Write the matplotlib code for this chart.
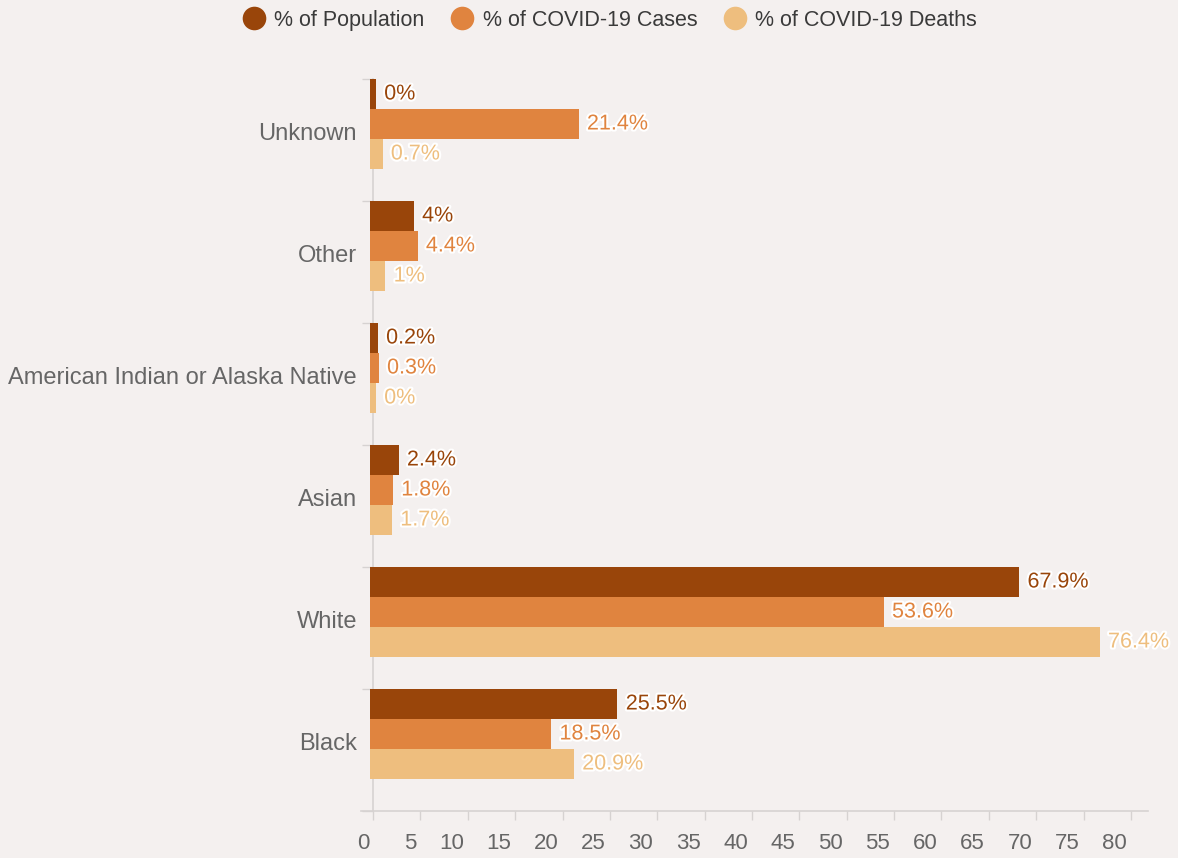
import matplotlib
matplotlib.use("Agg")
import matplotlib.pyplot as plt
import matplotlib.patheffects as pe
import matplotlib.transforms as mtransforms
from matplotlib.lines import Line2D
import numpy as np

plt.rcParams['font.family'] = ['Liberation Sans', 'DejaVu Sans']

categories = ["Unknown", "Other", "American Indian or Alaska Native", "Asian", "White", "Black"]
series_names = ["% of Population", "% of COVID-19 Cases", "% of COVID-19 Deaths"]
population = [0, 4, 0.2, 2.4, 67.9, 25.5]
cases = [21.4, 4.4, 0.3, 1.8, 53.6, 18.5]
deaths = [0.7, 1, 0, 1.7, 76.4, 20.9]
x_ticks = list(range(0, 85, 5))

colors = ["#99450A", "#E0843F", "#EEBE7E"]
bg = "#F4F0EF"
axis_gray = "#D6D2D1"
text_gray = "#666666"

fig = plt.figure(figsize=(11.78, 8.58), dpi=100, facecolor=bg)
ax = fig.add_axes([361 / 1178, (858 - 811) / 858, (1148 - 361) / 1178, (811 - 79) / 858])
ax.set_facecolor(bg)

n = len(categories)
ypos = np.arange(n)[::-1]  # Unknown at top
bar_h = 30 / 122
offsets = [0.5 - bar_h / 2, 0.5 - 1.5 * bar_h, 0.5 - 2.5 * bar_h]
pad = 0.3  # bars stick out a little past their value on both ends

for k, vals in enumerate([population, cases, deaths]):
    for y, v in zip(ypos, vals):
        yc = y + offsets[k]
        ax.barh(yc, v + 2 * pad, left=-pad, height=bar_h, color=colors[k], linewidth=0, zorder=3)
        ax.annotate(f"{v:g}%", xy=(v + pad, yc), xytext=(6, 0), textcoords="offset points",
                    ha="left", va="center", fontsize=15.5, color=colors[k], zorder=4,
                    path_effects=[pe.withStroke(linewidth=3, foreground="white")])

ax.set_xlim(-1.27, 81.8)
ax.set_ylim(-0.5, 5.5)

for s in ["top", "right"]:
    ax.spines[s].set_visible(False)
ax.spines["bottom"].set_color(axis_gray)
ax.spines["bottom"].set_linewidth(1.2)
ax.spines["left"].set_position(("data", 0))
ax.spines["left"].set_color(axis_gray)
ax.spines["left"].set_linewidth(1.2)
ax.spines["left"].set_zorder(1)

ax.set_xticks(x_ticks)
ax.set_xticklabels([str(t) for t in x_ticks])
ax.tick_params(axis="x", direction="out", length=6.5, width=1, color=axis_gray,
               labelsize=16, labelcolor=text_gray, pad=9.5)
shift = mtransforms.ScaledTranslation(-4 / 100, 0, fig.dpi_scale_trans)
for lab in ax.get_xticklabels():
    lab.set_horizontalalignment("right")
    lab.set_transform(lab.get_transform() + shift)

ax.set_yticks(ypos + 0.5 - 1.5 * bar_h - 8 / 122)
ax.set_yticklabels(categories)
ax.tick_params(axis="y", length=0, labelsize=17, labelcolor=text_gray, pad=11.5)
ax.set_yticks(np.arange(-0.5, n, 1.0), minor=True)
ax.tick_params(axis="y", which="minor", length=8, width=1, color=axis_gray)

handles = [Line2D([], [], marker="o", linestyle="none", markersize=17, color=c, markeredgewidth=0)
           for c in colors]
leg = fig.legend(handles, series_names, loc="upper center", bbox_to_anchor=(0.518, 1.011), ncol=3,
                 frameon=False, fontsize=15.5, handletextpad=0.45, columnspacing=1.25,
                 handlelength=1.0, labelcolor="#3a3a3a")

fig.savefig("out.png", dpi=100, facecolor=bg)
